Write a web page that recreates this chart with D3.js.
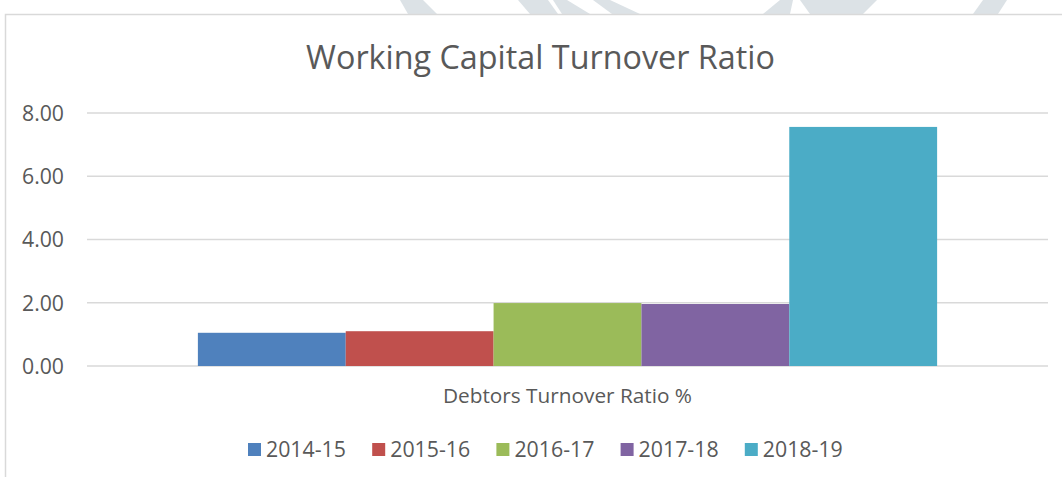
<!DOCTYPE html>
<html>
<head>
<meta charset="utf-8">
<script src="https://cdn.jsdelivr.net/npm/d3@7"></script>
<style>
  html, body { margin: 0; padding: 0; background: #fff; }
  svg { display: block; font-family: "Open Sans", "Noto Sans", sans-serif; }
</style>
</head>
<body>
<div id="chart"></div>
<script>
const categories = ["Debtors Turnover Ratio %"];
const seriesNames = ["2014-15", "2015-16", "2016-17", "2017-18", "2018-19"];
const seriesValues = [1.05, 1.10, 1.99, 1.96, 7.56];
const seriesColors = ["#4f81bd", "#c0504d", "#9bbb59", "#8064a2", "#4bacc6"];
const yTicks = [0, 2, 4, 6, 8];
const chartTitle = "Working Capital Turnover Ratio";

const W = 1062, H = 477;
const textColor = "#595959";

const svg = d3.select("#chart").append("svg")
    .attr("width", W).attr("height", H);

// faint watermark peeking above the chart frame
const marks = [
    [[400,0],[423,0],[437,14],[408,14]],
    [[518,0],[548,0],[558,14],[530,14]],
    [[553,0],[567,0],[590,14],[562,14]],
    [[593,0],[610,0],[640,14],[612,14]],
    [[780,0],[793,0],[790,14],[763,14]],
    [[800,0],[877,0],[863,14],[810,14]],
    [[983,0],[1007,0],[998,14],[973,14]]
];
svg.selectAll("polygon.wm").data(marks).enter().append("polygon")
    .attr("class", "wm")
    .attr("points", d => d.map(p => p.join(",")).join(" "))
    .attr("fill", "#dce2e6");

// chart frame
svg.append("rect")
    .attr("x", 5.5).attr("y", 14.5)
    .attr("width", W + 10).attr("height", H + 10)
    .attr("fill", "#fff").attr("stroke", "#d9d9d9").attr("stroke-width", 1.5);

const plot = { left: 87, right: 1048, top: 113, bottom: 366 };

const y = d3.scaleLinear().domain([0, 8]).range([plot.bottom, plot.top]);
const x0 = d3.scaleBand().domain(categories).range([plot.left, plot.right])
    .paddingInner(0).paddingOuter(0.15);
const x1 = d3.scaleBand().domain(seriesNames).range([0, x0.bandwidth()]).padding(0);

// fit a text element to a target width
function fit(sel, target) {
    sel.each(function () {
        const base = parseFloat(d3.select(this).attr("font-size"));
        const w = this.getComputedTextLength();
        d3.select(this).attr("font-size", (base * target / w).toFixed(2));
    });
}

// gridlines
svg.append("g").selectAll("line").data(yTicks).enter().append("line")
    .attr("x1", plot.left).attr("x2", plot.right)
    .attr("y1", d => y(d)).attr("y2", d => y(d))
    .attr("stroke", "#d9d9d9").attr("stroke-width", 1.5);

// y axis labels
const yAxis = d3.axisLeft(y).tickValues(yTicks).tickFormat(d3.format(".2f")).tickSize(0).tickPadding(0);
const ga = svg.append("g").attr("transform", "translate(64,0)").call(yAxis);
ga.select(".domain").remove();
ga.selectAll("text")
    .attr("fill", textColor).attr("font-size", 20)
    .attr("font-family", "Open Sans").attr("dy", "0.35em");
fit(ga.selectAll("text").filter(d => d === 8), 42);
ga.selectAll("text").attr("font-size", ga.selectAll("text").filter(d => d === 8).attr("font-size"));

// bars
const groups = svg.append("g").selectAll("g").data(categories).enter().append("g")
    .attr("transform", d => `translate(${x0(d)},0)`);
groups.selectAll("rect")
    .data(() => seriesNames.map((s, i) => ({ s, v: seriesValues[i], c: seriesColors[i] })))
    .enter().append("rect")
    .attr("x", d => x1(d.s)).attr("width", x1.bandwidth())
    .attr("y", d => y(d.v)).attr("height", d => y(0) - y(d.v))
    .attr("fill", d => d.c);

// category axis label
const xAxis = d3.axisBottom(x0).tickSize(0).tickPadding(0);
const gx = svg.append("g").attr("transform", `translate(0,${plot.bottom})`).call(xAxis);
gx.select(".domain").remove();
gx.selectAll("text").attr("fill", textColor).attr("font-size", 18)
    .attr("font-family", "Open Sans").attr("dy", null).attr("y", 37);
fit(gx.selectAll("text"), 249);

// title
const title = svg.append("text")
    .attr("x", 540.5).attr("y", 69)
    .attr("text-anchor", "middle")
    .attr("fill", textColor).attr("font-size", 30)
    .text(chartTitle);
fit(title, 469);

// legend
const leg = svg.append("g").selectAll("g").data(seriesNames).enter().append("g")
    .attr("transform", (d, i) => `translate(${248 + i * 124.2},443)`);
leg.append("rect").attr("width", 13).attr("height", 13)
    .attr("fill", (d, i) => seriesColors[i]);
const lt = leg.append("text").attr("x", 18).attr("y", 14)
    .attr("fill", textColor).attr("font-size", 18).text(d => d);
fit(lt.filter((d, i) => i === 0), 80);
lt.attr("font-size", lt.filter((d, i) => i === 0).attr("font-size"));
</script>
</body>
</html>
